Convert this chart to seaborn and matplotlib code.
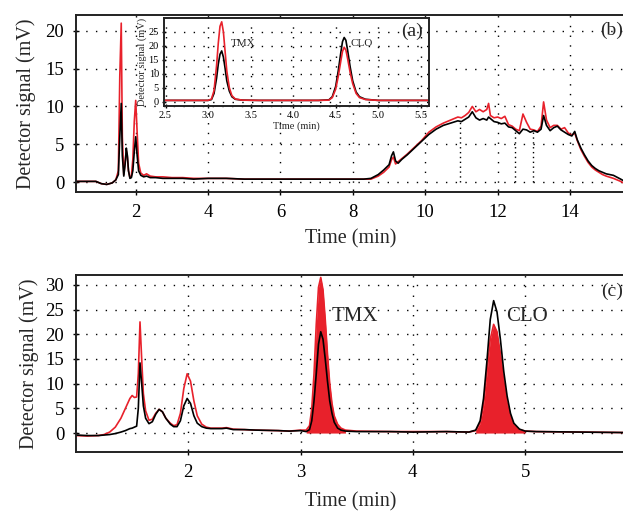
import matplotlib
matplotlib.use("Agg")
import matplotlib.pyplot as plt
import seaborn as sns
import numpy as np

# ---------------- data ----------------
# Panel (b): full chromatogram
top_time = [0.35, 0.6, 0.9, 1.05, 1.2, 1.35, 1.45, 1.52, 1.56, 1.60, 1.63, 1.67, 1.71, 1.74, 1.77,
            1.80, 1.84, 1.88, 1.92, 1.96, 2.00, 2.04, 2.08, 2.14, 2.22, 2.30, 2.40, 2.55, 2.75, 3.0,
            3.3, 3.6, 4.0, 4.5, 5.0, 5.5, 6.0, 6.5, 7.0, 7.5, 8.0, 8.3, 8.5, 8.7, 8.85, 9.0, 9.07,
            9.12, 9.18, 9.25, 9.35, 9.5, 9.7, 9.9, 10.1, 10.3, 10.5, 10.7, 10.9, 11.0, 11.1, 11.2,
            11.3, 11.4, 11.5, 11.6, 11.7, 11.75, 11.8, 11.9, 12.0, 12.1, 12.2, 12.3, 12.4, 12.5,
            12.6, 12.7, 12.8, 12.9, 13.0, 13.1, 13.2, 13.27, 13.35, 13.45, 13.55, 13.65, 13.75,
            13.85, 13.95, 14.05, 14.13, 14.2, 14.3, 14.4, 14.5, 14.6, 14.7, 14.8, 14.9, 15.0,
            15.2, 15.4, 15.55]
top_black = [0.1, 0.1, 0.1, -0.2, -0.3, -0.1, 0.3, 1.0, 6.0, 10.4, 3.5, 0.8, 2.5, 4.5, 3.5,
             1.5, 0.5, 0.6, 1.5, 4.0, 6.0, 3.5, 1.5, 0.9, 0.7, 0.8, 0.6, 0.6, 0.5, 0.5,
             0.5, 0.4, 0.5, 0.5, 0.4, 0.4, 0.4, 0.4, 0.4, 0.4, 0.4, 0.4, 0.5, 1.0, 1.6, 2.3, 3.5,
             4.0, 2.8, 2.5, 3.0, 3.6, 4.5, 5.4, 6.3, 7.0, 7.5, 7.8, 8.1, 8.0, 8.3, 8.6,
             9.3, 8.5, 8.2, 8.4, 8.2, 8.6, 8.4, 8.0, 7.9, 7.7, 7.8, 7.3, 7.2, 6.8,
             6.4, 7.0, 6.9, 6.6, 6.8, 6.6, 7.0, 8.8, 7.5, 6.8, 7.2, 7.4, 6.9,
             6.6, 6.3, 6.1, 6.7, 5.6, 4.5, 3.6, 2.8, 2.2, 1.8, 1.5, 1.3, 1.1,
             0.9, 0.4, 0.0]
top_red = [0.1, 0.1, 0.1, -0.2, -0.3, -0.1, 0.3, 1.5, 14.0, 21.0, 6.0, 1.0, 2.8, 4.2, 3.3,
           1.5, 0.6, 0.8, 3.0, 8.0, 10.8, 6.5, 2.5, 1.2, 0.9, 1.1, 0.8, 0.7, 0.7, 0.6,
           0.6, 0.5, 0.5, 0.5, 0.4, 0.4, 0.4, 0.4, 0.4, 0.4, 0.4, 0.4, 0.4, 0.8, 1.3, 2.0, 3.0,
           3.3, 2.4, 2.7, 3.1, 3.7, 4.6, 5.5, 6.6, 7.3, 7.8, 8.2, 8.6, 8.5, 8.8, 9.2,
           10.0, 9.3, 9.6, 9.3, 9.6, 10.4, 8.8, 8.5, 8.6, 8.4, 8.7, 7.6, 7.4, 7.0,
           6.8, 9.0, 7.9, 7.0, 6.9, 6.7, 7.4, 10.6, 8.2, 7.2, 7.5, 7.5, 7.0,
           7.2, 6.5, 6.2, 6.5, 5.5, 4.3, 3.4, 2.6, 2.0, 1.6, 1.3, 1.0, 0.8,
           0.5, 0.1, -0.3]
drop_times = [10.95, 12.47, 12.97]
drop_heights = [8.0, 6.9, 6.8]

# Panel (a): inset
inset_time = [2.48, 2.8, 3.0, 3.04, 3.07, 3.10, 3.12, 3.14, 3.16, 3.18, 3.20, 3.22, 3.25, 3.28,
              3.32, 3.40, 3.6, 4.0, 4.3, 4.42, 4.46, 4.50, 4.53, 4.56, 4.58, 4.60, 4.62, 4.64,
              4.67, 4.70, 4.74, 4.78, 4.85, 5.0, 5.3, 5.6]
inset_red = [0.5, 0.5, 0.5, 1.0, 4.0, 13.0, 21.0, 27.0, 28.6, 25.0, 18.0, 11.0, 5.0, 2.2,
             1.0, 0.6, 0.5, 0.5, 0.5, 0.6, 1.5, 4.5, 9.0, 14.5, 18.0, 19.5, 18.5, 15.5,
             10.5, 6.5, 3.0, 1.5, 0.8, 0.5, 0.5, 0.5]
inset_black = [0.5, 0.5, 0.5, 0.8, 3.0, 8.5, 13.5, 17.0, 18.2, 16.0, 12.0, 7.5, 3.8, 1.8,
               0.9, 0.6, 0.5, 0.5, 0.5, 0.7, 1.8, 5.5, 11.0, 17.5, 21.5, 23.0, 22.0, 18.5,
               12.5, 7.5, 3.5, 1.8, 0.9, 0.5, 0.5, 0.5]

# Panel (c)
bot_time = [1.00, 1.10, 1.20, 1.25, 1.30, 1.35, 1.40, 1.44, 1.48, 1.50, 1.52, 1.54, 1.555, 1.57,
            1.585, 1.60, 1.62, 1.65, 1.68, 1.71, 1.74, 1.77, 1.80, 1.84, 1.87, 1.90, 1.93, 1.96,
            1.99, 2.02, 2.05, 2.08, 2.12, 2.16, 2.20, 2.30, 2.34, 2.40, 2.50, 2.60, 2.80, 2.90,
            3.00, 3.05, 3.08, 3.10, 3.12, 3.14, 3.16, 3.18, 3.20, 3.22, 3.24, 3.26, 3.28, 3.30,
            3.33, 3.36, 3.40, 3.50, 3.80, 4.00, 4.30, 4.50, 4.56, 4.60, 4.63, 4.66, 4.69, 4.72,
            4.75, 4.78, 4.81, 4.84, 4.87, 4.90, 4.95, 5.00, 5.10, 5.50, 5.90]
bot_red = [-0.5, -0.6, -0.5, -0.3, 0.2, 1.2, 3.0, 5.0, 7.0, 7.6, 7.2, 7.3, 12.0, 22.5,
           15.0, 8.0, 4.5, 2.6, 2.8, 4.0, 4.8, 4.3, 3.0, 2.0, 1.5, 1.7, 4.0, 9.0,
           12.0, 10.5, 6.5, 3.5, 1.8, 1.2, 1.0, 1.0, 1.1, 0.8, 0.7, 0.6, 0.5, 0.4,
           0.6, 0.6, 1.5, 5.0, 12.0, 22.0, 29.5, 31.5, 29.0, 23.0, 16.0, 10.0, 6.0, 3.5,
           1.8, 1.0, 0.6, 0.4, 0.3, 0.3, 0.3, 0.2, 0.5, 2.0, 5.5, 12.0, 19.0, 22.0,
           20.5, 16.0, 10.5, 6.0, 3.2, 1.6, 0.7, 0.4, 0.3, 0.2, 0.1]
bot_black = [-0.4, -0.5, -0.5, -0.4, -0.3, -0.1, 0.2, 0.5, 0.9, 1.0, 1.2, 1.4, 5.0, 14.2,
             10.0, 5.5, 3.0, 1.9, 2.3, 3.8, 4.8, 4.3, 3.0, 1.8, 1.3, 1.3, 2.5, 5.5,
             7.0, 6.0, 3.5, 2.0, 1.3, 1.0, 0.9, 0.9, 1.0, 0.7, 0.7, 0.6, 0.5, 0.4,
             0.5, 0.3, 0.7, 2.5, 6.5, 12.0, 18.0, 20.5, 19.0, 15.0, 10.5, 6.5, 4.0, 2.2,
             1.0, 0.6, 0.4, 0.3, 0.3, 0.2, 0.3, 0.2, 0.6, 2.5, 7.0, 14.5, 23.0, 26.8,
             24.5, 19.0, 12.5, 7.5, 4.0, 2.0, 0.8, 0.4, 0.3, 0.2, 0.1]
fill_windows = [(3.05, 3.42), (4.55, 5.0)]

RED = "#e8212b"
BLACK = "#000000"

sns.set_style("ticks")
plt.rcParams["font.family"] = ["Liberation Serif", "DejaVu Serif"]
plt.rcParams["axes.linewidth"] = 1.4

fig = plt.figure(figsize=(6.23, 5.12), dpi=100)

GRID = dict(color="black", linestyle=(0, (1, 6)), linewidth=1.0)


def style_axes(ax, fs, pad=6):
    ax.tick_params(direction="inout", length=5, width=1.0, labelsize=fs, colors="black", pad=pad)
    for s in ax.spines.values():
        s.set_color("#222222")
    ax.set_axisbelow(True)
    ax.grid(True, **GRID)


# ---------------- panel (b) ----------------
ax1 = fig.add_axes([0.122, 0.625, 0.883, 0.346])
sns.lineplot(x=top_time, y=top_red, ax=ax1, color=RED, linewidth=1.2, estimator=None, sort=False)
sns.lineplot(x=top_time, y=top_black, ax=ax1, color=BLACK, linewidth=1.2, estimator=None, sort=False)
ax1.vlines(drop_times, 0, drop_heights, colors="black", linestyles=(0, (1, 2.5)), linewidth=1.0)
ax1.set_xlim(0.35, 15.55)
ax1.set_ylim(-1.3, 22.1)
ax1.set_xticks([2, 4, 6, 8, 10, 12, 14])
ax1.set_yticks([0, 5, 10, 15, 20])
style_axes(ax1, 13.5)
ax1.set_xlabel("Time (min)", fontsize=14.5, labelpad=6)
ax1.set_ylabel("Detector signal (mV)", fontsize=14.5, labelpad=7)
ax1.text(0.995, 0.91, "(b)", transform=ax1.transAxes, ha="right", va="center", fontsize=14)

# ---------------- panel (a) inset ----------------
ax0 = fig.add_axes([0.263, 0.793, 0.426, 0.172])
sns.lineplot(x=inset_time, y=inset_black, ax=ax0, color=BLACK, linewidth=1.2, estimator=None, sort=False)
sns.lineplot(x=inset_time, y=inset_red, ax=ax0, color=RED, linewidth=1.2, estimator=None, sort=False)
ax0.set_xlim(2.48, 5.6)
ax0.set_ylim(-1.5, 30)
ax0.set_xticks([2.5, 3.0, 3.5, 4.0, 4.5, 5.0, 5.5])
ax0.set_xticklabels(["2.5", "3.0", "3.5", "4.0", "4.5", "5.0", "5.5"])
ax0.set_yticks([0, 5, 10, 15, 20, 25])
style_axes(ax0, 7.5, pad=2)
ax0.tick_params(length=3)
ax0.set_xlabel("Time (min)", fontsize=7.5, labelpad=1)
ax0.set_ylabel("Detector signal (mV)", fontsize=7.5, labelpad=1)
ax0.text(3.27, 21, "TMX", fontsize=8, ha="left", va="center")
ax0.text(4.68, 21, "CLO", fontsize=8, ha="left", va="center")
ax0.text(0.975, 0.85, "(a)", transform=ax0.transAxes, ha="right", va="center", fontsize=14)

# ---------------- panel (c) ----------------
ax2 = fig.add_axes([0.122, 0.117, 0.883, 0.346])
bt = np.array(bot_time)
br = np.array(bot_red)
for lo, hi in fill_windows:
    m = (bt >= lo) & (bt <= hi)
    ax2.fill_between(bt[m], 0, br[m], color=RED, linewidth=0)
sns.lineplot(x=bot_time, y=bot_red, ax=ax2, color=RED, linewidth=1.2, estimator=None, sort=False)
sns.lineplot(x=bot_time, y=bot_black, ax=ax2, color=BLACK, linewidth=1.2, estimator=None, sort=False)
ax2.set_xlim(1.0, 5.9)
ax2.set_ylim(-3.85, 32)
ax2.set_xticks([2, 3, 4, 5])
ax2.set_yticks([0, 5, 10, 15, 20, 25, 30])
style_axes(ax2, 13.5)
ax2.set_xlabel("Time (min)", fontsize=14.5, labelpad=8)
ax2.set_ylabel("Detector signal (mV)", fontsize=14.5, labelpad=5)
ax2.text(3.28, 23.5, "TMX", fontsize=15, ha="left", va="center")
ax2.text(4.83, 23.5, "CLO", fontsize=15, ha="left", va="center")
ax2.text(0.995, 0.91, "(c)", transform=ax2.transAxes, ha="right", va="center", fontsize=14)

fig.savefig("out.png", dpi=100)
